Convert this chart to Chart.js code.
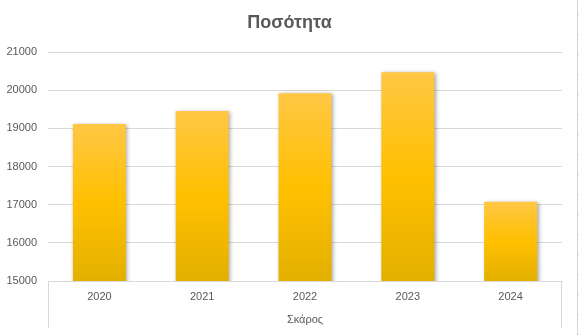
<!DOCTYPE html>
<html>
<head>
<meta charset="utf-8">
<script src="https://cdn.jsdelivr.net/npm/chart.js@4/dist/chart.umd.min.js"></script>
<style>
  html, body { margin: 0; padding: 0; background: #ffffff; }
  #wrap { width: 579px; height: 335px; position: relative; }
</style>
</head>
<body>
<div id="wrap"><canvas id="c" width="579" height="335"></canvas></div>
<script>
const categories = ['2020', '2021', '2022', '2023', '2024'];
const quantities = [19113, 19453, 19921, 20472, 17079];
const chartTitle = 'Ποσότητα';
const xAxisTitle = 'Σκάρος';
const yMin = 15000;
const yMax = 21000;
const yStep = 1000;

const textColor = '#595959';
const gridColor = '#d9d9d9';

function barGradient(context) {
  const chart = context.chart;
  const ys = chart.scales && chart.scales.y;
  if (!ys || context.raw === undefined) return '#FFC000';
  const top = ys.getPixelForValue(context.raw);
  const base = ys.getPixelForValue(yMin);
  if (!isFinite(top) || !isFinite(base) || top === base) return '#FFC000';
  const g = chart.ctx.createLinearGradient(0, top, 0, base);
  g.addColorStop(0, '#FFC745');
  g.addColorStop(0.5, '#FFC000');
  g.addColorStop(1, '#E3B000');
  return g;
}

const shadowPlugin = {
  id: 'barShadow',
  beforeDatasetsDraw(chart) {
    const ctx = chart.ctx;
    ctx.save();
    ctx.shadowColor = 'rgba(0,0,0,0.35)';
    ctx.shadowBlur = 4;
    ctx.shadowOffsetX = 1.5;
    ctx.shadowOffsetY = 1;
  },
  afterDatasetsDraw(chart) {
    chart.ctx.restore();
  }
};

const framePlugin = {
  id: 'axisFrame',
  afterDraw(chart) {
    const ctx = chart.ctx;
    const xs = chart.scales.x;
    const top = chart.chartArea.bottom;
    const bottom = top + 47;
    ctx.save();
    ctx.strokeStyle = gridColor;
    ctx.lineWidth = 1;
    ctx.beginPath();
    ctx.moveTo(Math.round(xs.left) + 0.5, top);
    ctx.lineTo(Math.round(xs.left) + 0.5, bottom);
    ctx.moveTo(Math.round(xs.right) - 0.5, top);
    ctx.lineTo(Math.round(xs.right) - 0.5, bottom);
    ctx.stroke();
    // sheet edge at the right border of the picture
    ctx.strokeStyle = '#d4d4d4';
    ctx.beginPath();
    ctx.moveTo(577.5, 0);
    ctx.lineTo(577.5, chart.height);
    for (let y = 14; y < chart.height; y += 20) {
      ctx.moveTo(577, y + 0.5);
      ctx.lineTo(579, y + 0.5);
    }
    ctx.stroke();
    ctx.restore();
  }
};

new Chart(document.getElementById('c'), {
  type: 'bar',
  data: {
    labels: categories,
    datasets: [{
      label: chartTitle,
      data: quantities,
      backgroundColor: barGradient,
      borderWidth: 0,
      barPercentage: 0.515,
      categoryPercentage: 1.0
    }]
  },
  options: {
    responsive: false,
    animation: false,
    devicePixelRatio: 1,
    layout: { padding: { left: 0, right: 0, top: 0, bottom: 0 } },
    plugins: {
      legend: { display: false },
      tooltip: { enabled: false },
      title: {
        display: true,
        text: chartTitle,
        color: textColor,
        font: { family: 'Liberation Sans', size: 18, weight: 'bold', lineHeight: 1.2 },
        padding: { top: 12, bottom: 18.4 }
      }
    },
    scales: {
      x: {
        grid: { display: false, drawTicks: false },
        border: { display: true, color: gridColor, width: 1 },
        ticks: {
          color: textColor,
          font: { family: 'Liberation Sans', size: 11 },
          padding: 9,
          maxRotation: 0
        },
        title: {
          display: true,
          text: xAxisTitle,
          color: textColor,
          font: { family: 'Liberation Sans', size: 11, lineHeight: 1.2 },
          padding: { top: 0, bottom: 8.4 }
        },
        afterFit(scale) { scale.height = 54; }
      },
      y: {
        min: yMin,
        max: yMax,
        grid: { color: gridColor, lineWidth: 1, drawTicks: false },
        border: { display: false },
        ticks: {
          stepSize: yStep,
          color: textColor,
          font: { family: 'Liberation Sans', size: 11 },
          padding: 11,
          callback: v => String(v)
        },
        afterFit(scale) { scale.width = 48; }
      },
      ySpacer: {
        position: 'right',
        display: true,
        min: yMin,
        max: yMax,
        grid: { display: false, drawTicks: false },
        border: { display: false },
        ticks: { display: false },
        afterFit(scale) { scale.width = 17; }
      }
    }
  },
  plugins: [shadowPlugin, framePlugin]
});
</script>
</body>
</html>
